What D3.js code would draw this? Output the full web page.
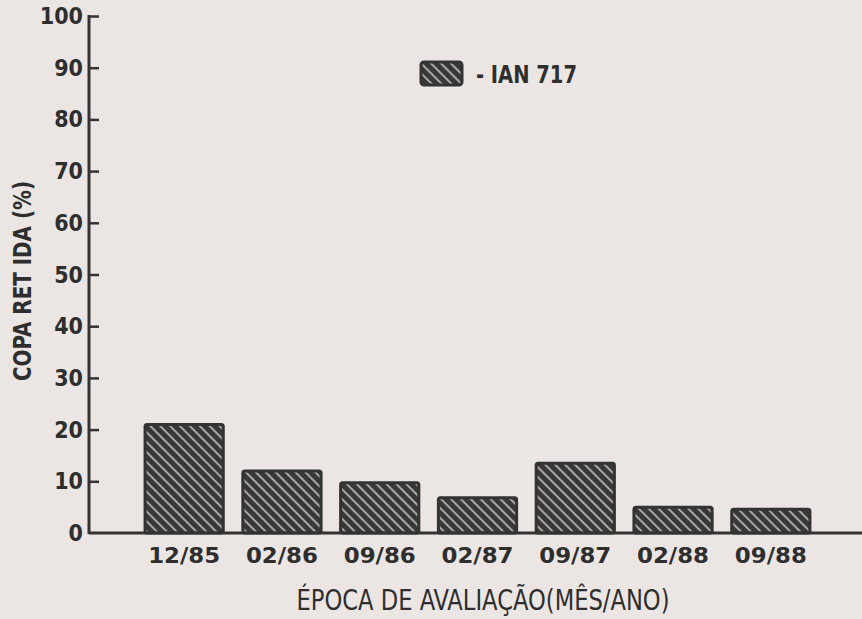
<!DOCTYPE html>
<html>
<head>
<meta charset="utf-8">
<script src="https://cdn.jsdelivr.net/npm/d3@7"></script>
<style>
  body { margin: 0; background: #ebe6e3; }
  svg { display: block; }
  text { font-family: "Liberation Sans Narrow", "DejaVu Sans Condensed", sans-serif; fill: #2e2e2e; }
</style>
</head>
<body>
<script>
// dados do grafico
var epocas = ["12/85", "02/86", "09/86", "02/87", "09/87", "02/88", "09/88"];
var copaRetida = [21, 12, 9.7, 6.8, 13.5, 5, 4.6];
var yTicks = [0, 10, 20, 30, 40, 50, 60, 70, 80, 90, 100];
var serie = "IAN 717";

var width = 862, height = 619;
var left = 89, baseY = 533, topY = 16;
var ink = "#333";

var svg = d3.select("body").append("svg")
    .attr("width", width)
    .attr("height", height);

// hachura diagonal das barras (\\\)
var pat = svg.append("defs").append("pattern")
    .attr("id", "hach")
    .attr("patternUnits", "userSpaceOnUse")
    .attr("width", 7).attr("height", 7)
    .attr("patternTransform", "rotate(-45)");
pat.append("rect").attr("width", 7).attr("height", 7).attr("fill", "#383838");
pat.append("rect").attr("x", 0).attr("width", 2).attr("height", 7).attr("fill", "#a9a6a4");

var x = d3.scaleBand()
    .domain(epocas)
    .range([125.5, 829.5])
    .paddingInner(0.2)
    .paddingOuter(0.2);

var y = d3.scaleLinear()
    .domain([0, 100])
    .range([baseY, topY]);

// barras
svg.selectAll(".barra")
    .data(copaRetida)
    .enter()
    .append("rect")
    .attr("class", "barra")
    .attr("x", function(d, i) { return x(epocas[i]); })
    .attr("y", function(d) { return y(d); })
    .attr("width", x.bandwidth())
    .attr("height", function(d) { return baseY - y(d); })
    .attr("rx", 2)
    .attr("fill", "url(#hach)")
    .attr("stroke", ink)
    .attr("stroke-width", 3);

// eixo y
var yAxis = svg.append("g")
    .attr("transform", "translate(" + left + ",0)")
    .call(d3.axisRight(y).tickValues(yTicks).tickSize(10).tickFormat(""));
yAxis.select(".domain").remove();
yAxis.selectAll("line").attr("stroke", ink).attr("stroke-width", 2.5);
yAxis.selectAll(".tick").filter(function(d) { return d === 0; }).remove();

svg.append("line")
    .attr("x1", left).attr("x2", left)
    .attr("y1", y(100) - 1).attr("y2", baseY + 1)
    .attr("stroke", ink).attr("stroke-width", 3);

svg.selectAll(".ylab")
    .data(yTicks)
    .enter()
    .append("text")
    .attr("class", "ylab")
    .attr("x", 83)
    .attr("y", function(d) { return y(d) + 8; })
    .attr("text-anchor", "end")
    .attr("font-size", 23)
    .attr("font-weight", "bold")
    .text(function(d) { return d; });

// eixo x
svg.append("line")
    .attr("x1", left).attr("x2", width)
    .attr("y1", baseY).attr("y2", baseY)
    .attr("stroke", ink).attr("stroke-width", 3);

svg.selectAll(".xlab")
    .data(epocas)
    .enter()
    .append("text")
    .attr("class", "xlab")
    .attr("x", function(d) { return x(d) + x.bandwidth() / 2; })
    .attr("y", 563)
    .attr("text-anchor", "middle")
    .attr("font-size", 22)
    .attr("font-weight", "bold")
    .attr("textLength", 72)
    .attr("lengthAdjust", "spacingAndGlyphs")
    .text(function(d) { return d; });

// titulos
svg.append("text")
    .attr("x", 483)
    .attr("y", 610)
    .attr("text-anchor", "middle")
    .attr("font-size", 28)
    .attr("textLength", 373)
    .attr("lengthAdjust", "spacingAndGlyphs")
    .text("ÉPOCA DE AVALIAÇÃO(MÊS/ANO)");

svg.append("text")
    .attr("transform", "translate(31,281) rotate(-90)")
    .attr("text-anchor", "middle")
    .attr("font-size", 24)
    .attr("font-weight", "bold")
    .attr("textLength", 200)
    .attr("lengthAdjust", "spacingAndGlyphs")
    .text("COPA RET IDA (%)");

// legenda
svg.append("rect")
    .attr("x", 421).attr("y", 62)
    .attr("width", 41).attr("height", 23)
    .attr("rx", 3)
    .attr("fill", "url(#hach)")
    .attr("stroke", ink).attr("stroke-width", 3);

svg.append("text")
    .attr("x", 476)
    .attr("y", 83)
    .attr("font-size", 24)
    .attr("font-weight", "bold")
    .attr("textLength", 101)
    .attr("lengthAdjust", "spacingAndGlyphs")
    .text("- " + serie);
</script>
</body>
</html>
